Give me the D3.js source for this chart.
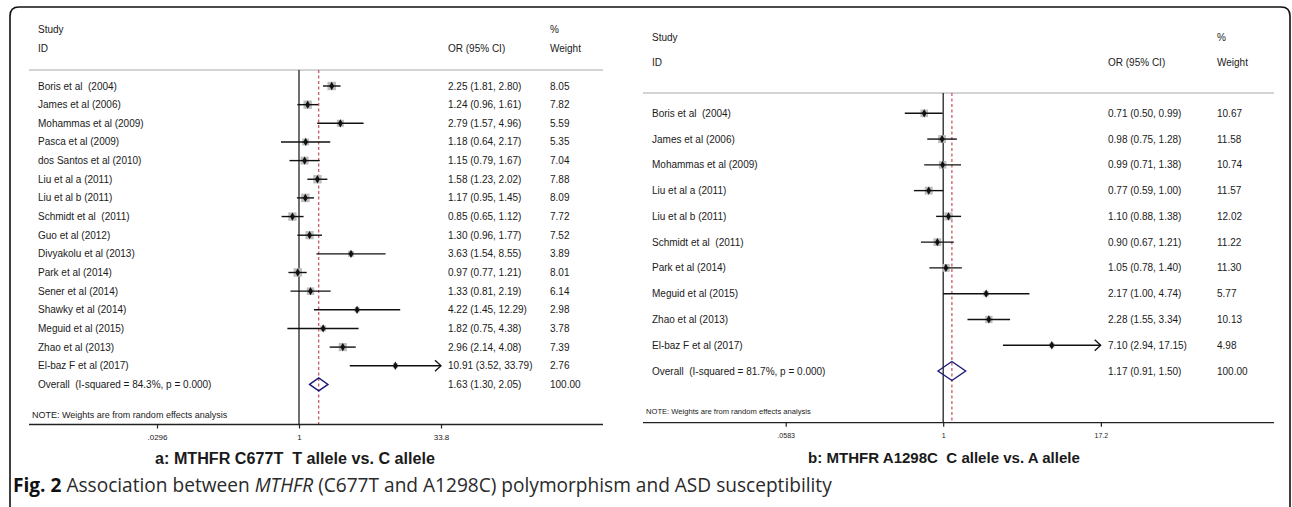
<!DOCTYPE html>
<html>
<head>
<meta charset="utf-8">
<script src="https://cdn.jsdelivr.net/npm/d3@7"></script>
<style>
  body { margin: 0; background: #fff; }
  svg text { font-family: "Liberation Sans", Arial, Helvetica, sans-serif; fill: #1a1a1a; white-space: pre; }
</style>
</head>
<body>
<svg id="chart" width="1292" height="507"></svg>
<script>
// ---- panel a: MTHFR C677T ----
let studiesA = ["Boris et al  (2004)", "James et al (2006)", "Mohammas et al (2009)", "Pasca et al (2009)",
    "dos Santos et al (2010)", "Liu et al a (2011)", "Liu et al b (2011)", "Schmidt et al  (2011)",
    "Guo et al (2012)", "Divyakolu et al (2013)", "Park et al (2014)", "Sener et al (2014)",
    "Shawky et al (2014)", "Meguid et al (2015)", "Zhao et al (2013)", "El-baz F et al (2017)"];
let orA = [2.25, 1.24, 2.79, 1.18, 1.15, 1.58, 1.17, 0.85, 1.30, 3.63, 0.97, 1.33, 4.22, 1.82, 2.96, 10.91];
let lowA = [1.81, 0.96, 1.57, 0.64, 0.79, 1.23, 0.95, 0.65, 0.96, 1.54, 0.77, 0.81, 1.45, 0.75, 2.14, 3.52];
let highA = [2.80, 1.61, 4.96, 2.17, 1.67, 2.02, 1.45, 1.12, 1.77, 8.55, 1.21, 2.19, 12.29, 4.38, 4.08, 33.79];
let weightA = [8.05, 7.82, 5.59, 5.35, 7.04, 7.88, 8.09, 7.72, 7.52, 3.89, 8.01, 6.14, 2.98, 3.78, 7.39, 2.76];
let overallA = [1.63, 1.30, 2.05];
let overallLabelA = "Overall  (I-squared = 84.3%, p = 0.000)";
let ticksA = [0.0296, 1, 33.8];
let tickLabelsA = [".0296", "1", "33.8"];
let captionA = "a: MTHFR C677T  T allele vs. C allele";

// ---- panel b: MTHFR A1298C ----
let studiesB = ["Boris et al  (2004)", "James et al (2006)", "Mohammas et al (2009)", "Liu et al a (2011)",
    "Liu et al b (2011)", "Schmidt et al  (2011)", "Park et al (2014)", "Meguid et al (2015)",
    "Zhao et al (2013)", "El-baz F et al (2017)"];
let orB = [0.71, 0.98, 0.99, 0.77, 1.10, 0.90, 1.05, 2.17, 2.28, 7.10];
let lowB = [0.50, 0.75, 0.71, 0.59, 0.88, 0.67, 0.78, 1.00, 1.55, 2.94];
let highB = [0.99, 1.28, 1.38, 1.00, 1.38, 1.21, 1.40, 4.74, 3.34, 17.15];
let weightB = [10.67, 11.58, 10.74, 11.57, 12.02, 11.22, 11.30, 5.77, 10.13, 4.98];
let overallB = [1.17, 0.91, 1.50];
let overallLabelB = "Overall  (I-squared = 81.7%, p = 0.000)";
let ticksB = [0.0583, 1, 17.2];
let tickLabelsB = [".0583", "1", "17.2"];
let captionB = "b: MTHFR A1298C  C allele vs. A allele";

let note = "NOTE: Weights are from random effects analysis";
let fmt = d3.format(".2f");

let svg = d3.select("#chart");

// outer frame
svg.append("path")
    .attr("d", "M10,507 L10,16 Q10,7 19,7 L1281,7 Q1290,7 1290,16 L1290,507")
    .attr("fill", "none")
    .attr("stroke", "#111")
    .attr("stroke-width", 1.6);

function fitWidth(sel, target) {
    let size = parseFloat(sel.attr("font-size"));
    let w = sel.node().getComputedTextLength();
    sel.attr("font-size", (size * target / w).toFixed(2));
}

function drawPanel(p) {
    let g = svg.append("g");
    let n = p.studies.length;

    // symmetric log axis running out to the widest upper CI
    let xMax = d3.max(p.high);
    let x = d3.scaleLog().domain([1 / xMax, xMax]).range(p.xRange);
    let y = d3.scaleLinear().domain([0, n]).range([p.rowY0, p.rowY0 + n * p.rowStep]);
    let side = d3.scaleSqrt().domain([0, d3.max(p.weight)]).range([0, p.boxMax]);

    // headers
    g.append("text").attr("x", p.labelX).attr("y", p.hdrY1).attr("dy", "0.35em").attr("font-size", 10).text("Study");
    g.append("text").attr("x", p.labelX).attr("y", p.hdrY2).attr("dy", "0.35em").attr("font-size", 10).text("ID");
    g.append("text").attr("x", p.orX).attr("y", p.hdrY2).attr("dy", "0.35em").attr("font-size", 10).text("OR (95% CI)");
    g.append("text").attr("x", p.wX).attr("y", p.hdrY1).attr("dy", "0.35em").attr("font-size", 10).text("%");
    g.append("text").attr("x", p.wX).attr("y", p.hdrY2).attr("dy", "0.35em").attr("font-size", 10).text("Weight");

    g.append("line")
        .attr("x1", p.lineX[0]).attr("x2", p.lineX[1])
        .attr("y1", p.hdrLineY).attr("y2", p.hdrLineY)
        .attr("stroke", "#a8a8a8").attr("stroke-width", 1);

    // null line and overall line
    g.append("line")
        .attr("x1", x(1)).attr("x2", x(1))
        .attr("y1", p.hdrLineY).attr("y2", p.axisY)
        .attr("stroke", "#222").attr("stroke-width", 1.3);
    g.append("line")
        .attr("x1", x(p.overall[0])).attr("x2", x(p.overall[0]))
        .attr("y1", p.hdrLineY).attr("y2", p.axisY)
        .attr("stroke", "#c0505a").attr("stroke-width", 1.2)
        .attr("stroke-dasharray", "3,2.5");

    let rows = p.studies.map((s, i) => ({
        name: s, or: p.or[i], lo: p.low[i], hi: p.high[i], w: p.weight[i], i: i
    }));

    // weight boxes
    g.selectAll("rect.box").data(rows).join("rect")
        .attr("class", "box")
        .attr("x", d => x(d.or) - side(d.w) / 2)
        .attr("y", d => y(d.i) - side(d.w) / 2)
        .attr("width", d => side(d.w))
        .attr("height", d => side(d.w))
        .attr("fill", "#bcbcbc");

    // CI lines
    g.selectAll("line.ci").data(rows).join("line")
        .attr("class", "ci")
        .attr("x1", d => x(d.lo))
        .attr("x2", d => x(d.hi))
        .attr("y1", d => y(d.i)).attr("y2", d => y(d.i))
        .attr("stroke", "#111").attr("stroke-width", 1.4);

    // arrow where the CI runs off the axis
    g.selectAll("path.arrow").data(rows.filter(d => d.hi >= xMax)).join("path")
        .attr("class", "arrow")
        .attr("d", d => `M${x(d.hi) - 6},${y(d.i) - 5.5} L${x(d.hi)},${y(d.i)} L${x(d.hi) - 6},${y(d.i) + 5.5}`)
        .attr("fill", "none").attr("stroke", "#111").attr("stroke-width", 1.3);

    // point estimates
    g.selectAll("path.pt").data(rows).join("path")
        .attr("class", "pt")
        .attr("transform", d => `translate(${x(d.or)},${y(d.i)})`)
        .attr("d", d3.symbol(d3.symbolDiamond, 20))
        .attr("fill", "#111");

    // study labels, OR text, weights
    g.selectAll("text.lab").data(rows).join("text")
        .attr("class", "lab")
        .attr("x", p.labelX).attr("y", d => y(d.i)).attr("dy", "0.35em")
        .attr("font-size", 10).text(d => d.name);
    g.selectAll("text.or").data(rows).join("text")
        .attr("class", "or")
        .attr("x", p.orX).attr("y", d => y(d.i)).attr("dy", "0.35em")
        .attr("font-size", 10).text(d => `${fmt(d.or)} (${fmt(d.lo)}, ${fmt(d.hi)})`);
    g.selectAll("text.wt").data(rows).join("text")
        .attr("class", "wt")
        .attr("x", p.wX).attr("y", d => y(d.i)).attr("dy", "0.35em")
        .attr("font-size", 10).text(d => fmt(d.w));

    // overall row
    let yo = y(n);
    let o = p.overall;
    g.append("path")
        .attr("d", `M${x(o[1])},${yo} L${x(o[0])},${yo - p.diaH} L${x(o[2])},${yo} L${x(o[0])},${yo + p.diaH} Z`)
        .attr("fill", "none").attr("stroke", "#1c1c78").attr("stroke-width", 1.4);
    g.append("text").attr("x", p.labelX).attr("y", yo).attr("dy", "0.35em").attr("font-size", 10).text(p.overallLabel);
    g.append("text").attr("x", p.orX).attr("y", yo).attr("dy", "0.35em").attr("font-size", 10)
        .text(`${fmt(o[0])} (${fmt(o[1])}, ${fmt(o[2])})`);
    g.append("text").attr("x", p.wX).attr("y", yo).attr("dy", "0.35em").attr("font-size", 10)
        .text("100.00");

    // note
    g.append("text").attr("x", p.labelX - 6).attr("y", p.noteY).attr("dy", "0.35em")
        .attr("font-size", p.noteSize).text(note);

    // axis
    g.append("line")
        .attr("x1", p.lineX[0]).attr("x2", p.lineX[1])
        .attr("y1", p.axisY).attr("y2", p.axisY)
        .attr("stroke", "#222").attr("stroke-width", 1.3);
    let axis = d3.axisBottom(x)
        .tickValues(p.ticks)
        .tickFormat((d, i) => p.tickLabels[i])
        .tickSize(4)
        .tickPadding(p.tickPad);
    let ag = g.append("g")
        .attr("transform", `translate(0,${p.axisY})`)
        .call(axis);
    ag.select(".domain").remove();
    ag.selectAll(".tick line").attr("stroke", "#222").attr("stroke-width", 1.2);
    ag.selectAll(".tick text")
        .attr("font-family", "Liberation Sans, Arial, sans-serif")
        .attr("font-size", p.tickSize)
        .attr("fill", "#1a1a1a");

    // caption
    let cap = g.append("text")
        .attr("x", p.capX).attr("y", p.capY).attr("dy", "0.35em")
        .attr("text-anchor", "middle")
        .attr("font-weight", "bold")
        .attr("font-size", 14)
        .attr("fill", "#111")
        .text(p.caption);
    fitWidth(cap, p.capW);
}

drawPanel({
    studies: studiesA, or: orA, low: lowA, high: highA, weight: weightA,
    overall: overallA, overallLabel: overallLabelA,
    ticks: ticksA, tickLabels: tickLabelsA, caption: captionA,
    xRange: [157, 441], labelX: 38, orX: 448, wX: 550,
    hdrY1: 29, hdrY2: 48, hdrLineY: 70, lineX: [29, 603],
    rowY0: 86, rowStep: 18.65, boxMax: 8.5, diaH: 6.5,
    noteY: 415, noteSize: 9, axisY: 424.5, tickSize: 8, tickPad: 6,
    capX: 295, capY: 458, capW: 280
});

drawPanel({
    studies: studiesB, or: orB, low: lowB, high: highB, weight: weightB,
    overall: overallB, overallLabel: overallLabelB,
    ticks: ticksB, tickLabels: tickLabelsB, caption: captionB,
    xRange: [785.7, 1100.7], labelX: 652, orX: 1108, wX: 1217,
    hdrY1: 37, hdrY2: 62, hdrLineY: 93, lineX: [643, 1274],
    rowY0: 113.3, rowStep: 25.77, boxMax: 8, diaH: 9.5,
    noteY: 411.7, noteSize: 7.6, axisY: 422.7, tickSize: 7, tickPad: 6,
    capX: 944, capY: 458, capW: 272
});

// figure caption
let fig = svg.append("text")
    .attr("x", 13).attr("y", 485).attr("dy", "0.35em")
    .attr("font-size", 15)
    .style("font-family", "'Open Sans', 'Noto Sans', sans-serif")
    .style("fill", "#2a2a2a");
fig.append("tspan").attr("font-weight", "bold").style("fill", "#111").text("Fig. 2");
fig.append("tspan").text(" Association between ");
fig.append("tspan").attr("font-style", "italic").text("MTHFR");
fig.append("tspan").text(" (C677T and A1298C) polymorphism and ASD susceptibility");
fitWidth(fig, 819);
</script>
</body>
</html>
